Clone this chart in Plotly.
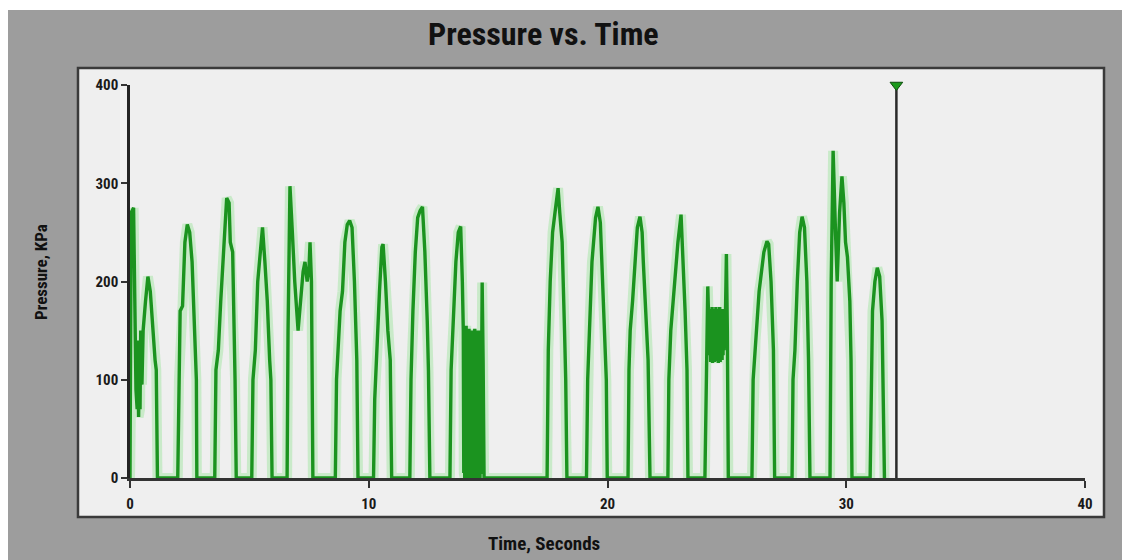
import plotly.graph_objects as go

# ---------------- data ----------------
time_s = [
    # cycle 1
    0.0, 0.05, 0.15, 0.2, 0.25, 0.3, 0.33, 0.36, 0.39, 0.42,
    0.45, 0.5, 0.55, 0.65, 0.75, 0.85, 0.95, 1.05, 1.1, 1.15,
    # cycle 2
    2.0, 2.05, 2.1, 2.2, 2.3, 2.4, 2.5, 2.6, 2.7, 2.78, 2.8,
    # cycle 3
    3.55, 3.6, 3.7, 3.8, 3.9, 4.0, 4.05, 4.15, 4.2, 4.3, 4.35, 4.4, 4.45,
    # cycle 4
    5.1, 5.15, 5.25, 5.35, 5.45, 5.55, 5.65, 5.75, 5.85, 5.9, 5.95,
    # cycle 5
    6.58, 6.62, 6.7, 6.8, 6.9, 7.04, 7.15, 7.25, 7.33, 7.42, 7.5, 7.54, 7.6, 7.66,
    # cycle 6
    8.6, 8.65, 8.8, 8.9, 9.0, 9.1, 9.2, 9.3, 9.4, 9.5, 9.55,
    # cycle 7
    10.2, 10.25, 10.35, 10.45, 10.55, 10.6, 10.7, 10.8, 10.9, 10.96,
    # cycle 8
    11.72, 11.77, 11.85, 11.95, 12.05, 12.15, 12.25, 12.35, 12.45, 12.5, 12.56,
    # cycle 9 (with dense burst)
    13.4, 13.45, 13.55, 13.65, 13.75, 13.85, 13.92, 13.96,
    13.98, 14.0, 14.02, 14.04, 14.06, 14.08, 14.1, 14.12, 14.14, 14.16,
    14.18, 14.2, 14.22, 14.24, 14.26, 14.28, 14.3, 14.32, 14.34, 14.36,
    14.38, 14.4, 14.42, 14.44, 14.46, 14.48, 14.5, 14.52, 14.54, 14.56,
    14.58, 14.6, 14.62, 14.64, 14.66, 14.68, 14.7, 14.72,
    14.75, 14.79, 14.83,
    # cycle 10
    17.47, 17.52, 17.6, 17.7, 17.8, 17.93, 18.0, 18.1, 18.2, 18.25, 18.3,
    # cycle 11
    19.12, 19.17, 19.25, 19.35, 19.5, 19.6, 19.7, 19.8, 19.9, 19.95, 19.99,
    # cycle 12
    20.86, 20.9, 20.95, 21.05, 21.15, 21.25, 21.36, 21.45, 21.5, 21.6, 21.7, 21.78,
    # cycle 13
    22.53, 22.57, 22.65, 22.75, 22.85, 22.95, 23.08, 23.15, 23.25, 23.33, 23.37,
    # cycle 14 (with dense burst)
    24.08, 24.15, 24.2, 24.25, 24.28,
    24.3, 24.32, 24.34, 24.36, 24.38, 24.4, 24.42, 24.44, 24.46, 24.48,
    24.5, 24.52, 24.54, 24.56, 24.58, 24.6, 24.62, 24.64, 24.66, 24.68,
    24.7, 24.72, 24.74, 24.76, 24.78, 24.8, 24.82, 24.84, 24.86, 24.88,
    24.9, 24.92,
    24.98, 25.02, 25.06,
    # cycle 15
    26.05, 26.1, 26.2, 26.35, 26.45, 26.55, 26.68, 26.75, 26.85, 26.95, 27.0,
    # cycle 16
    27.73, 27.77, 27.85, 27.95, 28.05, 28.15, 28.25, 28.35, 28.42, 28.48,
    # cycle 17
    29.32, 29.37, 29.45, 29.55, 29.62, 29.72, 29.82, 29.9, 29.97, 30.05, 30.15, 30.2, 30.24,
    # cycle 18
    31.0, 31.1, 31.2, 31.3, 31.4, 31.5, 31.6,
]
pressure_kpa = [
    # cycle 1
    0, 270, 275, 180, 90, 70, 140, 62, 130, 70,
    150, 95, 150, 180, 205, 190, 150, 120, 110, 0,
    # cycle 2
    0, 100, 170, 175, 240, 258, 250, 220, 150, 100, 0,
    # cycle 3
    0, 110, 130, 180, 220, 262, 285, 280, 240, 230, 180, 100, 0,
    # cycle 4
    0, 100, 130, 200, 230, 255, 220, 180, 120, 100, 0,
    # cycle 5
    0, 150, 297, 250, 200, 150, 180, 210, 220, 200, 215, 240, 200, 0,
    # cycle 6
    0, 100, 170, 190, 240, 258, 262, 255, 200, 120, 0,
    # cycle 7
    0, 80, 140, 190, 235, 238, 200, 150, 120, 0,
    # cycle 8
    0, 100, 170, 230, 265, 272, 276, 230, 160, 110, 0,
    # cycle 9
    0, 110, 170, 220, 250, 256, 200, 150,
    5, 152, 0, 148, 6, 155, 0, 150, 4, 146,
    0, 152, 3, 148, 0, 150, 5, 145, 0, 150,
    2, 148, 0, 152, 4, 146, 0, 150, 3, 148,
    0, 150, 5, 145, 0, 148, 4, 150,
    199, 120, 0,
    # cycle 10
    0, 130, 200, 250, 270, 295, 270, 240, 150, 100, 0,
    # cycle 11
    0, 100, 160, 220, 265, 276, 260, 200, 130, 100, 0,
    # cycle 12
    0, 110, 150, 180, 220, 255, 266, 250, 220, 170, 120, 0,
    # cycle 13
    0, 100, 150, 180, 210, 240, 268, 230, 170, 110, 0,
    # cycle 14
    0, 150, 195, 150, 125,
    172, 118, 170, 120, 174, 117, 168, 120, 172, 118,
    170, 122, 174, 119, 168, 120, 172, 117, 170, 121,
    174, 118, 168, 122, 170, 120, 172, 125, 165, 130,
    160, 135,
    228, 150, 0,
    # cycle 15
    0, 100, 140, 190, 210, 230, 241, 238, 200, 130, 0,
    # cycle 16
    0, 100, 130, 200, 250, 266, 255, 200, 120, 0,
    # cycle 17
    0, 200, 333, 250, 200, 270, 307, 280, 240, 225, 180, 120, 0,
    # cycle 18
    0, 170, 200, 214, 205, 160, 0,
]
cursor_time = 32.1
cursor_range = [0, 400]

x_ticks = [0, 10, 20, 30, 40]
y_ticks = [0, 100, 200, 300, 400]

title_text = "Pressure vs. Time"
x_title = "Time, Seconds"
y_title = "Pressure, KPa"

# ---------------- figure ----------------
# the page has an 8px body margin, so the figure is drawn 8px in from the window corner
OFF = 8
W, H = 1130 - OFF, 560 - OFF
L, R, T, B = 130, 1085, 85, 478  # plot area in window px


def px(xp):
    return (xp - L) / (R - L)


def py(yp):
    return (B - yp) / (B - T)


FONT = "Liberation Sans Narrow, Arial Narrow, Roboto Condensed, Liberation Sans, Arial, sans-serif"

fig = go.Figure()

# glow under the signal
fig.add_trace(go.Scatter(
    x=time_s, y=pressure_kpa, mode="lines",
    line=dict(color="rgba(120,225,120,0.32)", width=10),
    hoverinfo="skip", showlegend=False,
))
# main signal
fig.add_trace(go.Scatter(
    x=time_s, y=pressure_kpa, mode="lines",
    line=dict(color="#1b931f", width=3.4),
    showlegend=False,
))
# cursor line
fig.add_trace(go.Scatter(
    x=[cursor_time, cursor_time], y=cursor_range, mode="lines",
    line=dict(color="#2a2a2a", width=2.5),
    showlegend=False, hoverinfo="skip",
))
fig.add_trace(go.Scatter(
    x=[cursor_time], y=[cursor_range[1]], mode="markers",
    marker=dict(symbol="triangle-down", size=11, color="#1a9a1a",
                line=dict(color="#0d4d0d", width=1)),
    cliponaxis=False, showlegend=False, hoverinfo="skip",
))

shapes = [
    # gray window background
    dict(type="rect", xref="paper", yref="paper",
         x0=px(0), x1=px(1140), y0=py(570), y1=py(10),
         fillcolor="#9d9d9d", line=dict(width=0), layer="below"),
    # light panel
    dict(type="rect", xref="paper", yref="paper",
         x0=px(78), x1=px(1104), y0=py(517), y1=py(68),
         fillcolor="#efefef", line=dict(color="#3a3a3a", width=2.5), layer="below"),
]

annotations = [
    dict(text="<b>" + title_text + "</b>", xref="paper", yref="paper",
         x=px(543), y=py(34), xanchor="center", yanchor="middle", showarrow=False,
         font=dict(family=FONT, size=32, color="#111111")),
    dict(text="<b>" + x_title + "</b>", xref="paper", yref="paper",
         x=px(544), y=py(543), xanchor="center", yanchor="middle", showarrow=False,
         font=dict(family=FONT, size=19, color="#111111")),
    dict(text="<b>" + y_title + "</b>", xref="paper", yref="paper",
         x=px(41), y=py(272), xanchor="center", yanchor="middle", showarrow=False,
         textangle=-90, font=dict(family=FONT, size=17, color="#111111")),
]

fig.update_layout(
    width=W, height=H,
    margin=dict(l=L - OFF, r=1130 - R, t=T - OFF, b=560 - B, pad=0),
    paper_bgcolor="#ffffff",
    plot_bgcolor="#efefef",
    shapes=shapes,
    annotations=annotations,
    showlegend=False,
    xaxis=dict(
        range=[0, 40], tickvals=x_ticks, ticktext=["<b>%d</b>" % v for v in x_ticks],
        showgrid=False, zeroline=False, showline=True, linecolor="#333333", linewidth=2.5,
        ticks="outside", ticklen=7, tickwidth=2, tickcolor="#333333",
        ticklabelstandoff=3, layer="above traces",
        tickfont=dict(family=FONT, size=15, color="#1a1a1a"),
    ),
    yaxis=dict(
        range=[0, 400], tickvals=y_ticks, ticktext=["<b>%d</b>" % v for v in y_ticks],
        showgrid=False, zeroline=False, showline=True, linecolor="#222222", linewidth=2.5,
        ticks="outside", ticklen=6, tickwidth=2, tickcolor="#333333",
        layer="above traces",
        tickfont=dict(family=FONT, size=15, color="#1a1a1a"),
    ),
)

fig.write_html("out.html")
